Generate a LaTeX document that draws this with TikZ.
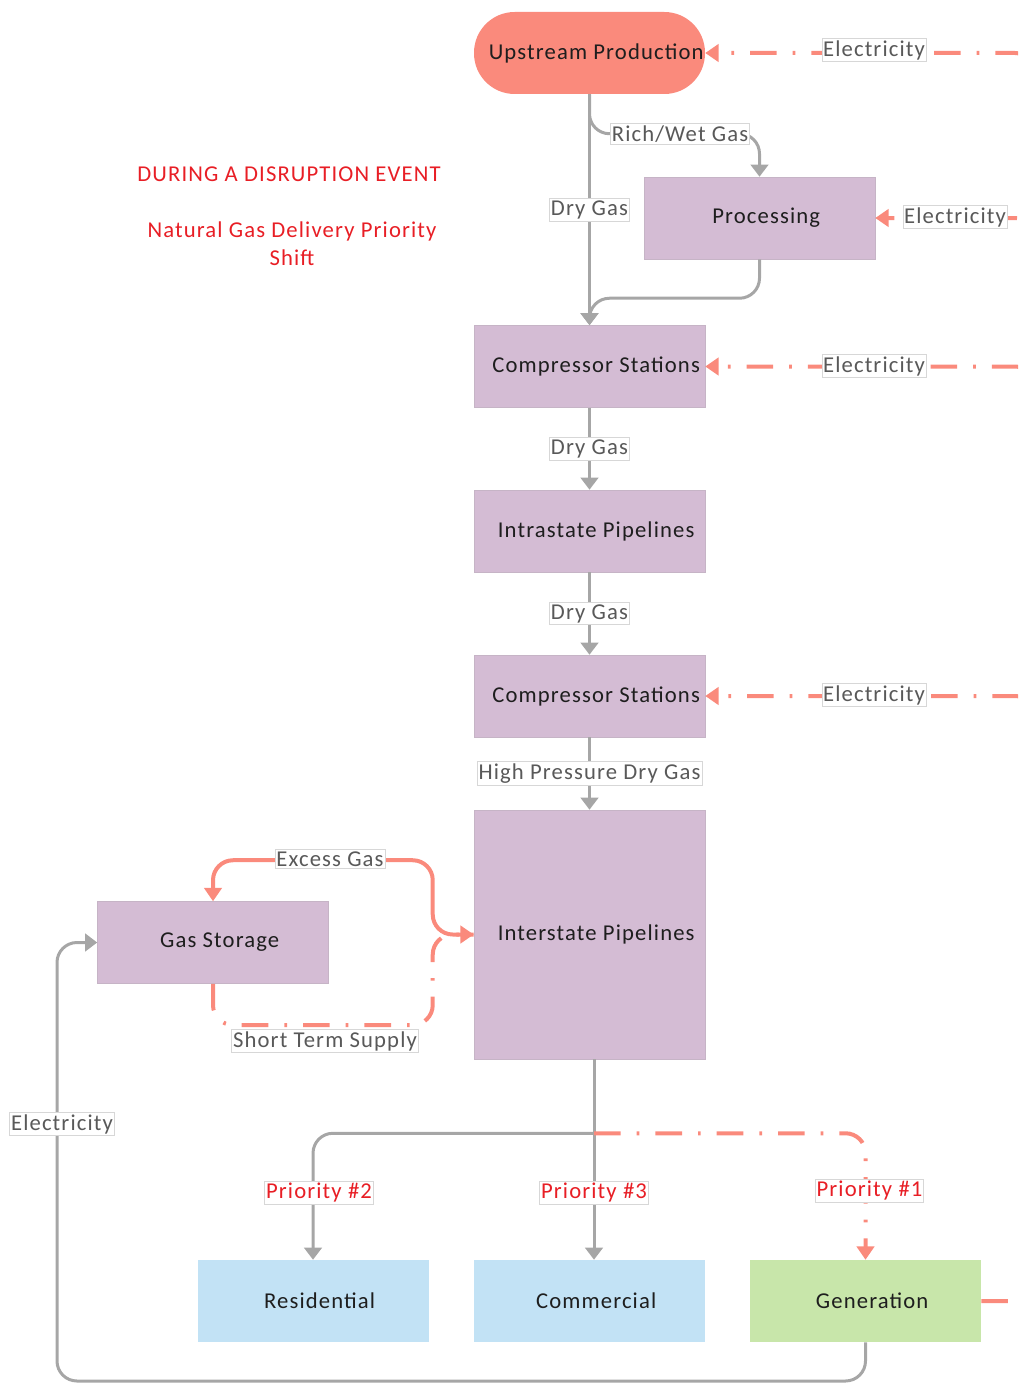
\documentclass[tikz,border=0pt]{standalone}
\usepackage{fontspec}
\setmainfont{Carlito}[LetterSpace=5]
\usetikzlibrary{arrows.meta,calc}

\definecolor{salmon}{RGB}{250,138,124}
\definecolor{lav}{RGB}{212,188,212}
\definecolor{lavedge}{RGB}{198,180,198}
\definecolor{skyb}{RGB}{194,226,245}
\definecolor{leaf}{RGB}{200,230,170}
\definecolor{pipe}{RGB}{166,166,166}
\definecolor{labtxt}{RGB}{89,89,89}
\definecolor{labedge}{RGB}{215,215,215}
\definecolor{alert}{RGB}{232,30,37}
\definecolor{boxtxt}{RGB}{30,30,30}

\tikzset{
  basefont/.style={font=\fontsize{17}{20}\selectfont},
  box/.style={rectangle, fill=lav, draw=lavedge, line width=0.4pt,
    minimum width=173.25pt, minimum height=61.5pt, inner sep=0pt},
  boxtext/.style={basefont, text=boxtxt, xshift=5pt},
  lbl/.style={basefont, sharp corners, solid, fill=white, draw=labedge,
    line width=0.4pt, inner xsep=1pt, inner ysep=1.5pt, text=labtxt},
  prio/.style={lbl, text=alert},
  pipeline/.style={draw=pipe, line width=2.25pt, rounded corners=15pt,
    -{Triangle[width=13pt,length=9pt]}},
  power/.style={draw=salmon, line width=3pt, rounded corners=15pt,
    dash pattern=on 20pt off 12pt on 2pt off 12pt,
    -{Triangle[width=13pt,length=10pt]}},
  excess/.style={draw=salmon, line width=3pt, rounded corners=15pt,
    -{Triangle[width=13pt,length=10pt]}},
}

\begin{document}
\begin{tikzpicture}[x=0.75pt,y=-0.75pt]
\useasboundingbox (0,0) rectangle (1018,1384);
\clip (0,0) rectangle (1018,1384);

% ---- boxes ----
\node[box, fill=salmon, draw=none, rounded corners=30.5pt,
      label={[boxtext]center:Upstream Production}] (up) at (589.5,53) {};
\node[box, label={[boxtext]center:Processing}] (proc) at (759.5,218) {};
\node[box, label={[boxtext]center:Compressor Stations}] (cs1) at (589.5,366.5) {};
\node[box, label={[boxtext]center:Intrastate Pipelines}] (intra) at (589.5,531) {};
\node[box, label={[boxtext]center:Compressor Stations}] (cs2) at (589.5,696) {};
\node[box, minimum height=186.75pt,
      label={[boxtext]center:Interstate Pipelines}] (inter) at (589.5,934.5) {};
\node[box, label={[boxtext]center:Gas Storage}] (gs) at (213,942.5) {};
\node[box, fill=skyb, draw=none, label={[boxtext]center:Residential}] (res) at (313,1301) {};
\node[box, fill=skyb, draw=none, label={[boxtext]center:Commercial}] (com) at (589.5,1301) {};
\node[box, fill=leaf, draw=none, label={[boxtext]center:Generation}] (gen) at (865.5,1301) {};

% ---- heading ----
\node[basefont, text=alert] (head) at (289,174) {DURING A DISRUPTION EVENT};
\node[basefont, text=alert, align=center] (sub) at (292,244)
  {Natural Gas Delivery Priority\\[1pt]Shift};

% ---- gas flow ----
\draw[pipeline] (up.south) -- (cs1.north)
  node[lbl, pos=0.5] {Dry Gas};
\draw[pipeline] (up.south) |- ($(proc.north)+(0,-43)$) -- (proc.north);
\node[lbl] (rw) at (680,134) {Rich/Wet Gas};
\draw[pipeline] (proc.south) |- ($(cs1.north)+(0,-27)$) -- (cs1.north);
\draw[pipeline] (cs1.south) -- (intra.north) node[lbl, midway] {Dry Gas};
\draw[pipeline] (intra.south) -- (cs2.north) node[lbl, midway] {Dry Gas};
\draw[pipeline] (cs2.south) -- (inter.north) node[lbl, midway] {High Pressure Dry Gas};

% ---- storage loop ----
\coordinate (sg) at ($(inter.west)+(-41,0)$);
\draw[excess] (inter.west) -- (sg) |- ($(gs.north)+(0,-41)$) -- (gs.north);
\node[lbl] (xg) at (330,859) {Excess Gas};
\draw[power] (gs.south) |- ($(sg)+(0,90.5)$) |- (inter.west);
\node[lbl] (st) at (325,1041) {Short Term Supply};

% ---- delivery ----
\coordinate (split) at ($(inter.south)+(4.5,74)$);
\draw[pipeline] ($(inter.south)+(4.5,0)$) -- ($(com.north)+(4.5,0)$)
  node[prio, pos=0.667] {Priority \#3};
\draw[pipeline] (split) -| (res.north);
\node[prio] (p2) at ($(res.north)+(6,-67)$) {Priority \#2};
\draw[power] (split) -| (gen.north);
\node[prio] (p1) at ($(gen.north)+(4,-69)$) {Priority \#1};

% ---- electricity ----
\coordinate (loop) at (57,1381);
\draw[pipeline] (gen.south) |- (loop) |- (gs.west);
\node[lbl] (el0) at (62,1124) {Electricity};

\draw[power] (1035,110) |- (up.east);
\node[lbl] (el1) at (874,50) {Electricity};
\draw[power] (1035,270) |- (proc.east);
\node[lbl] (el2) at (955,217) {Electricity};
\draw[power] (1035,420) |- (cs1.east);
\node[lbl] (el3) at (874,366) {Electricity};
\draw[power] (1035,750) |- (cs2.east);
\node[lbl] (el4) at (874,695) {Electricity};
\draw[power, -] (gen.east) -| (1035,1240);
\end{tikzpicture}
\end{document}
